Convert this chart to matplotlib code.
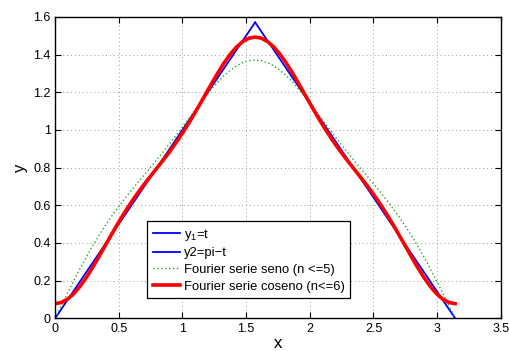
import numpy as np
import matplotlib
matplotlib.use("Agg")
import matplotlib.pyplot as plt

plt.rcParams["font.family"] = ["Liberation Sans", "DejaVu Sans"]
plt.rcParams["mathtext.fontset"] = "custom"
plt.rcParams["mathtext.rm"] = "Liberation Sans"
plt.rcParams["mathtext.it"] = "Liberation Sans"

# ── data ───────────────────────────────────────────────────────────────────────
t1 = [0.0, 1.5708]
y1 = [0.0, 1.5708]
t2 = [1.5708, 3.1416]
y2 = [1.5708, 0.0]

# sample points k*pi/64, k = 0..64
ts = [0.0000, 0.0491, 0.0982, 0.1473, 0.1963, 0.2454, 0.2945, 0.3436,
      0.3927, 0.4418, 0.4909, 0.5400, 0.5890, 0.6381, 0.6872, 0.7363,
      0.7854, 0.8345, 0.8836, 0.9327, 0.9817, 1.0308, 1.0799, 1.1290,
      1.1781, 1.2272, 1.2763, 1.3254, 1.3744, 1.4235, 1.4726, 1.5217,
      1.5708, 1.6199, 1.6690, 1.7181, 1.7671, 1.8162, 1.8653, 1.9144,
      1.9635, 2.0126, 2.0617, 2.1108, 2.1598, 2.2089, 2.2580, 2.3071,
      2.3562, 2.4053, 2.4544, 2.5035, 2.5525, 2.6016, 2.6507, 2.6998,
      2.7489, 2.7980, 2.8471, 2.8962, 2.9452, 2.9943, 3.0434, 3.0925,
      3.1416]
seno = [0.0000, 0.0679, 0.1351, 0.2009, 0.2646, 0.3257, 0.3839, 0.4389,
        0.4908, 0.5396, 0.5856, 0.6293, 0.6711, 0.7116, 0.7514, 0.7910,
        0.8309, 0.8716, 0.9132, 0.9558, 0.9994, 1.0436, 1.0879, 1.1319,
        1.1746, 1.2153, 1.2530, 1.2868, 1.3159, 1.3394, 1.3567, 1.3673,
        1.3709, 1.3673, 1.3567, 1.3394, 1.3159, 1.2868, 1.2530, 1.2153,
        1.1746, 1.1319, 1.0879, 1.0436, 0.9994, 0.9558, 0.9132, 0.8716,
        0.8309, 0.7910, 0.7514, 0.7116, 0.6711, 0.6293, 0.5856, 0.5396,
        0.4908, 0.4389, 0.3839, 0.3257, 0.2646, 0.2009, 0.1351, 0.0679,
        0.0000]
coseno = [0.0780, 0.0842, 0.1022, 0.1313, 0.1702, 0.2170, 0.2699, 0.3266,
          0.3853, 0.4439, 0.5011, 0.5557, 0.6071, 0.6553, 0.7005, 0.7435,
          0.7854, 0.8273, 0.8703, 0.9155, 0.9637, 1.0151, 1.0697, 1.1269,
          1.1855, 1.2442, 1.3009, 1.3538, 1.4006, 1.4395, 1.4686, 1.4866,
          1.4928, 1.4866, 1.4686, 1.4395, 1.4006, 1.3538, 1.3009, 1.2442,
          1.1855, 1.1269, 1.0697, 1.0151, 0.9637, 0.9155, 0.8703, 0.8273,
          0.7854, 0.7435, 0.7005, 0.6553, 0.6071, 0.5557, 0.5011, 0.4439,
          0.3853, 0.3266, 0.2699, 0.2170, 0.1702, 0.1313, 0.1022, 0.0842,
          0.0780]

xticks = [0, 0.5, 1, 1.5, 2, 2.5, 3, 3.5]
yticks = [0, 0.2, 0.4, 0.6, 0.8, 1, 1.2, 1.4, 1.6]

# ── plot ───────────────────────────────────────────────────────────────────────
fig = plt.figure(figsize=(5.1, 3.51), dpi=100)
ax = fig.add_axes([0.108, 0.093, 0.874, 0.859])

ax.plot(t1, y1, color="#0000ff", lw=1.3, label="y$_1$=t")
ax.plot(t2, y2, color="#0000ff", lw=1.3, label="y2=pi\u2212t")
ax.plot(ts, seno, color="#22aa22", lw=1.0, ls=(0, (1, 1.8)),
        label="Fourier serie seno (n <=5)")
ax.plot(ts, coseno, color="#ff0000", lw=2.6,
        label="Fourier serie coseno (n<=6)")

ax.set_xlim(0, 3.5)
ax.set_ylim(0, 1.6)
ax.set_xticks(xticks)
ax.set_xticklabels(["0", "0.5", "1", "1.5", "2", "2.5", "3", "3.5"])
ax.set_yticks(yticks)
ax.set_yticklabels(["0", "0.2", "0.4", "0.6", "0.8", "1", "1.2", "1.4", "1.6"])
ax.tick_params(direction="in", top=True, right=True, labelsize=9,
               length=4, width=0.8, pad=3)
ax.grid(True, color="#999999", ls=(0, (1, 3)), lw=0.7)
for s in ax.spines.values():
    s.set_linewidth(1.0)

ax.set_xlabel("x", fontsize=12, labelpad=1)
ax.set_ylabel("y", fontsize=12, labelpad=4)

leg = ax.legend(loc="lower left", bbox_to_anchor=(0.207, 0.068),
                fontsize=9.4, handlelength=2.1, handletextpad=0.3,
                labelspacing=0.35, borderpad=0.4, borderaxespad=0,
                fancybox=False, framealpha=1, edgecolor="black")
leg.get_frame().set_linewidth(0.9)

fig.savefig("out.png", dpi=100)
